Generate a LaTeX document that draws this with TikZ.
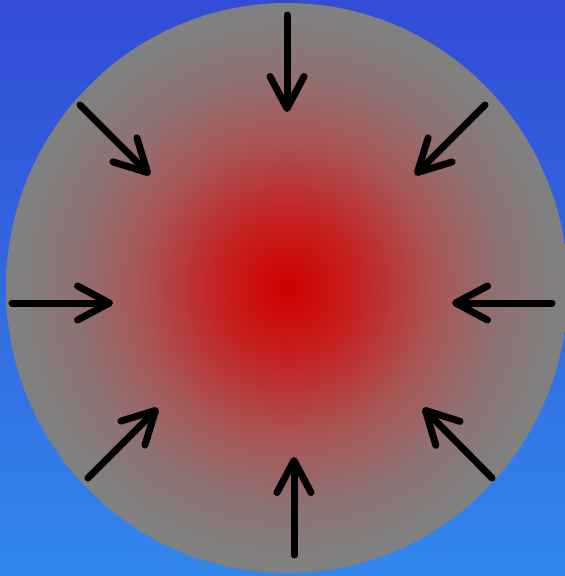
\documentclass[tikz,border=0pt]{standalone}
\usetikzlibrary{arrows.meta}

\definecolor{skytop}{RGB}{50,76,214}
\definecolor{skybottom}{RGB}{50,135,236}
\definecolor{hotred}{RGB}{208,0,0}
\definecolor{warmred}{RGB}{198,32,32}
\definecolor{dullred}{RGB}{168,88,88}
\definecolor{palered}{RGB}{142,114,114}
\definecolor{coolgray}{RGB}{128,128,128}
\pgfdeclareradialshading{hotspot}{\pgfpoint{0bp}{0bp}}{color(0bp)=(hotred); color(6bp)=(warmred); color(13.5bp)=(dullred); color(19bp)=(palered); color(24bp)=(coolgray); color(50bp)=(coolgray)}

\tikzset{push/.style={line width=7pt, line cap=round,
  -{Straight Barb[length=32pt, width=34pt, line cap=round, line join=round]}}}

\begin{document}
\begin{tikzpicture}[x=1pt, y=-1pt]
  \useasboundingbox (0, 0) rectangle (565, 576);
  \fill[top color=skytop, bottom color=skybottom] (0, 0) rectangle (565, 576);
  \shade[shading=hotspot] (287, 288) ellipse (281 and 285);

  \coordinate (tN)  at (287, 15);   \coordinate (hN)  at (287, 112);
  \coordinate (tNW) at (80, 105);   \coordinate (hNW) at (150, 175);
  \coordinate (tNE) at (485, 105);  \coordinate (hNE) at (415, 175);
  \coordinate (tW)  at (12, 303);   \coordinate (hW)  at (113, 303);
  \coordinate (tE)  at (552, 303);  \coordinate (hE)  at (452, 303);
  \coordinate (tSW) at (88, 478);   \coordinate (hSW) at (158, 408);
  \coordinate (tSE) at (492, 478);  \coordinate (hSE) at (423, 408);
  \coordinate (tS)  at (294, 555);  \coordinate (hS)  at (294, 457);

  \draw[push] (tN) -- (hN);
  \draw[push] (tNW) -- (hNW);
  \draw[push] (tNE) -- (hNE);
  \draw[push] (tW) -- (hW);
  \draw[push] (tE) -- (hE);
  \draw[push] (tSW) -- (hSW);
  \draw[push] (tSE) -- (hSE);
  \draw[push] (tS) -- (hS);
\end{tikzpicture}
\end{document}
